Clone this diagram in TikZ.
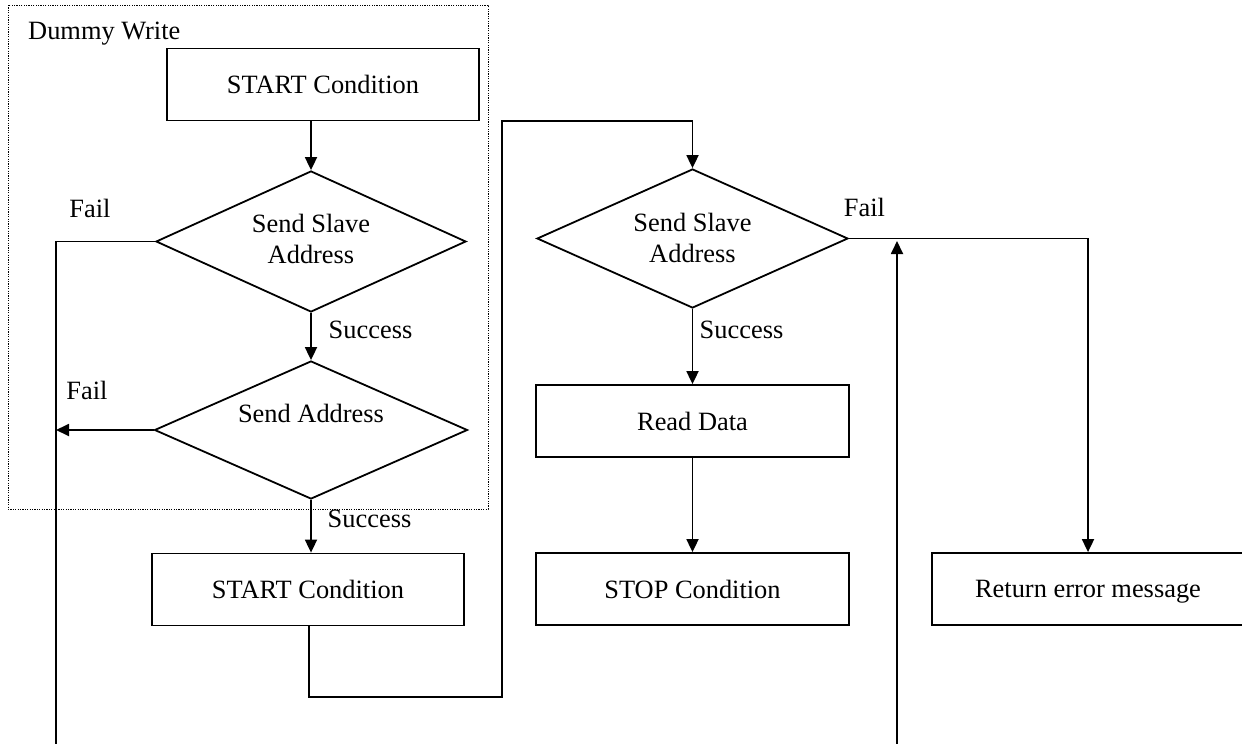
\documentclass[tikz,border=0pt]{standalone}
\usepackage{fontspec}
\setmainfont{Liberation Serif}
\usetikzlibrary{arrows.meta,shapes.geometric}
\tikzset{
  line/.style={line width=1.8pt, draw=black},
  arr/.style={line, -{Triangle[length=13pt,width=12pt]}},
  stepbox/.style={draw=black, line width=1.8pt, rectangle, minimum width=312pt, minimum height=72pt, inner sep=0pt, text depth=0pt},
  dia/.style={draw=black, line width=1.8pt, diamond, inner sep=0pt},
  lbl/.style={inner sep=0pt, text depth=0pt},
  grp/.style={draw=black, line width=0.9pt, dash pattern=on 1.2pt off 1.2pt}
}
\begin{document}
\begin{tikzpicture}[x=1pt,y=-1pt,font=\fontsize{26.4pt}{31pt}\selectfont]
\useasboundingbox (0,0) rectangle (1242,744);
\clip (0,0) rectangle (1242,744);
% group frame
\draw[grp] (8,5) rectangle (488,509);
\node[lbl, anchor=base west] (dw) at (28,39) {Dummy Write};
% nodes
\node[stepbox] (s1) at (323,84.5) {START Condition};
\node[dia, minimum width=310pt, minimum height=141pt] (d1) at (311,241.5) {};
\node[lbl, align=center] (d1t) at (311,239) {Send Slave\\Address};
\node[dia, minimum width=313pt, minimum height=138pt] (d2) at (311,430) {};
\node[lbl] (d2t) at (311,413) {Send Address};
\node[stepbox] (s2) at (308,589.5) {START Condition};
\node[dia, minimum width=311pt, minimum height=139pt] (d3) at (692.5,238.5) {};
\node[lbl, align=center] (d3t) at (692.5,238) {Send Slave\\Address};
\node[stepbox, minimum width=313pt] (rd) at (692.5,421) {Read Data};
\node[stepbox, minimum width=313pt] (sp) at (692.5,589) {STOP Condition};
\node[stepbox] (er) at (1088,589) {Return error message};
% labels
\node[lbl] (f1) at (90,208) {Fail};
\node[lbl] (sc1) at (370.5,330) {Success};
\node[lbl] (f2) at (87,390) {Fail};
\node[lbl] (sc2) at (369.5,519) {Success};
\node[lbl] (f3) at (864.5,207) {Fail};
\node[lbl] (sc3) at (741.5,330) {Success};
% helper coordinates
\coordinate (lb) at (56,744);
\coordinate (rb) at (897,744);
\coordinate (rt) at (897,241);
\coordinate (ex) at (1088,238.5);
% connectors
\draw[arr] (s1.south -| d1.north) -- (d1.north);
\draw[arr] (d1.south) -- (d2.north);
\draw[arr] (d2.south) -- (s2.north -| d2.south);
\draw[line] (d1.west) -- (d1.west -| lb) -- (lb);
\draw[arr] (d2.west) -- (d2.west -| lb);
\draw[arr] (s2.south -| 309,0) -- (309,697) -- (502,697) -- (502,121) -- (d3.north |- 0,121) -- (d3.north);
\draw[arr] (d3.south) -- (rd.north -| d3.south);
\draw[arr] (rd) -- (sp);
\draw[arr] (d3.east) -- (ex) -- (er.north -| ex);
\draw[arr] (rb) -- (rt);
\end{tikzpicture}
\end{document}
